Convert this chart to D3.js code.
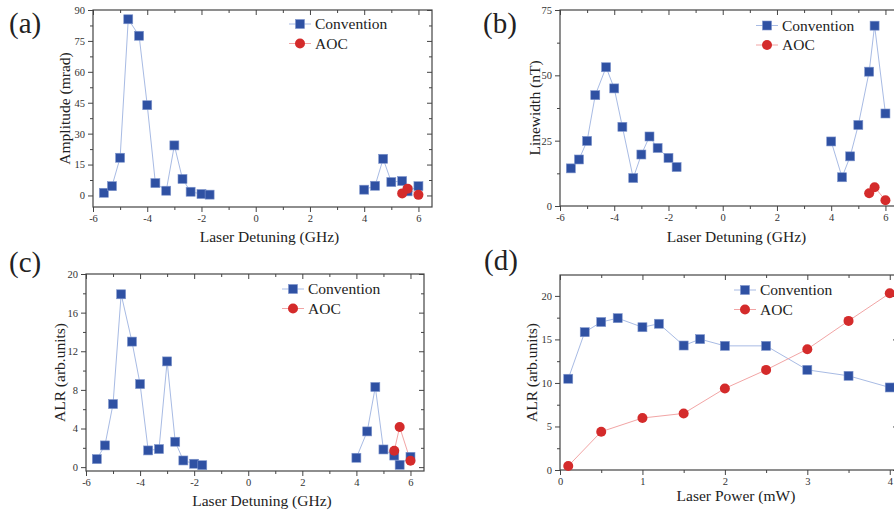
<!DOCTYPE html>
<html lang="en">
<head>
<meta charset="utf-8">
<title>Convention vs AOC</title>
<style>
  body { margin: 0; background: #fff; }
  svg { display: block; }
  .tick text { fill: #333; }
  .tick line { stroke: #444; }
  .domain { display: none; }
</style>
<script src="https://d3js.org/d3.v7.min.js"></script>
</head>
<body>
<script>
// ---- data ----
let detuning = [-5.6, -5.3, -5.0, -4.7, -4.3, -4.0, -3.7, -3.3, -3.0, -2.7, -2.4, -2.0, -1.7, 4.0, 4.4, 4.7, 5.0, 5.4, 5.6, 6.0]
let aocDetuning = [5.4, 5.6, 6.0]

let ampConv = [1.3, 4.5, 18.3, 85.5, 77.5, 43.8, 6.0, 2.3, 24.3, 8.0, 1.8, 0.7, 0.4, 2.8, 4.7, 17.8, 6.5, 7.0, 2.0, 4.5]
let ampAoc = [1.0, 3.3, 0.3]

let lwConv = [14.4, 17.8, 24.9, 42.4, 53.1, 45.0, 30.3, 10.7, 19.7, 26.6, 22.2, 18.4, 14.9, 24.7, 11.0, 19.0, 31.0, 51.4, 69.0, 35.4]
let lwAoc = [4.9, 7.2, 2.2]

let alrConv = [0.83, 2.25, 6.53, 17.9, 13.0, 8.6, 1.73, 1.87, 10.95, 2.63, 0.69, 0.35, 0.2, 0.97, 3.7, 8.3, 1.83, 1.2, 0.24, 1.07]
let alrAoc = [1.7, 4.15, 0.66]

let power = [0.1, 0.3, 0.5, 0.7, 1.0, 1.2, 1.5, 1.7, 2.0, 2.5, 3.0, 3.5, 4.0]
let powConv = [10.48, 15.83, 17.0, 17.44, 16.4, 16.8, 14.3, 15.03, 14.26, 14.26, 11.5, 10.82, 9.48]
let aocPower = [0.1, 0.5, 1.0, 1.5, 2.0, 2.5, 3.0, 3.5, 4.0]
let powAoc = [0.46, 4.4, 5.97, 6.5, 9.37, 11.5, 13.88, 17.13, 20.3]

let detTicks = [-6, -4, -2, 0, 2, 4, 6]
let detMinor = [-5, -3, -1, 1, 3, 5]

const blue = "#2f51a3", blueLine = "#a8bbe4"
const red = "#d42b2b", redLine = "#f2a5a5"
const axisCol = "#444"
const serif = '"Liberation Serif", "Times New Roman", serif'

let svg = d3.select("body").append("svg")
    .attr("width", 894).attr("height", 510)

let panels = [
  { tag: "(a)", tagX: 9, tagY: 33, x0: 93, x1: 432, y0: 10, y1: 207,
    xDom: [-6, 6.5], yDom: [-5.6, 90], yTicks: [0, 15, 30, 45, 60, 75, 90], yMinor: [7.5, 22.5, 37.5, 52.5, 67.5, 82.5],
    xTicks: detTicks, xMinor: detMinor, yLabel: "Amplitude (mrad)", yLabelX: 65, xLabel: "Laser Detuning (GHz)", xLabelY: 242,
    legX: 300, legY: 24,
    conv: { x: detuning, y: ampConv }, aoc: { x: aocDetuning, y: ampAoc } },
  { tag: "(b)", tagX: 483, tagY: 33, x0: 560, x1: 899, y0: 10, y1: 206,
    xDom: [-6, 6.5], yDom: [0, 75], yTicks: [0, 25, 50, 75], yMinor: [12.5, 37.5, 62.5],
    xTicks: detTicks, xMinor: detMinor, yLabel: "Linewidth (nT)", yLabelX: 535, xLabel: "Laser Detuning (GHz)", xLabelY: 242,
    legX: 767, legY: 25.5,
    conv: { x: detuning, y: lwConv }, aoc: { x: aocDetuning, y: lwAoc } },
  { tag: "(c)", tagX: 9, tagY: 272, x0: 86, x1: 424, y0: 274, y1: 471,
    xDom: [-6, 6.5], yDom: [-0.4, 20], yTicks: [0, 4, 8, 12, 16, 20], yMinor: [2, 6, 10, 14, 18],
    xTicks: detTicks, xMinor: detMinor, yLabel: "ALR (arb.units)", yLabelX: 60, xLabel: "Laser Detuning (GHz)", xLabelY: 506,
    legX: 293, legY: 289,
    conv: { x: detuning, y: alrConv }, aoc: { x: aocDetuning, y: alrAoc } },
  { tag: "(d)", tagX: 484, tagY: 270, x0: 560, x1: 898, y0: 275, y1: 470,
    xDom: [0, 4.1], yDom: [0, 22.4], yTicks: [0, 5, 10, 15, 20], yMinor: [2.5, 7.5, 12.5, 17.5],
    xTicks: [0, 1, 2, 3, 4], xMinor: [0.5, 1.5, 2.5, 3.5], yLabel: "ALR (arb.units)", yLabelX: 532, xLabel: "Laser Power (mW)", xLabelY: 501,
    legX: 745, legY: 290,
    conv: { x: power, y: powConv }, aoc: { x: aocPower, y: powAoc } }
]

let drawPanel = (p) => {
  let xScale = d3.scaleLinear().domain(p.xDom).range([p.x0, p.x1])
  let yScale = d3.scaleLinear().domain(p.yDom).range([p.y1, p.y0])
  let g = svg.append("g")

  let addAxis = (axis, tx, ty) => {
    g.append("g").attr("transform", `translate(${tx},${ty})`)
      .call(axis)
      .attr("font-family", serif)
      .attr("font-size", 10.5)
  }

  // axes: bottom/left outward, top/right inward
  addAxis(d3.axisBottom(xScale).tickValues(p.xTicks).tickSize(5).tickSizeOuter(0).tickPadding(3).tickFormat(d => String(d)), 0, p.y1)
  addAxis(d3.axisBottom(xScale).tickValues(p.xMinor).tickSize(3).tickSizeOuter(0).tickFormat(""), 0, p.y1)
  addAxis(d3.axisLeft(yScale).tickValues(p.yTicks).tickSize(5).tickSizeOuter(0).tickPadding(3).tickFormat(d => String(d)), p.x0, 0)
  addAxis(d3.axisLeft(yScale).tickValues(p.yMinor).tickSize(3).tickSizeOuter(0).tickFormat(""), p.x0, 0)
  addAxis(d3.axisTop(xScale).tickValues(p.xTicks).tickSize(-5).tickSizeOuter(0).tickFormat(""), 0, p.y0)
  addAxis(d3.axisTop(xScale).tickValues(p.xMinor).tickSize(-3).tickSizeOuter(0).tickFormat(""), 0, p.y0)
  addAxis(d3.axisRight(yScale).tickValues(p.yTicks).tickSize(-5).tickSizeOuter(0).tickFormat(""), p.x1, 0)
  addAxis(d3.axisRight(yScale).tickValues(p.yMinor).tickSize(-3).tickSizeOuter(0).tickFormat(""), p.x1, 0)

  g.append("rect")
    .attr("x", p.x0).attr("y", p.y0)
    .attr("width", p.x1 - p.x0).attr("height", p.y1 - p.y0)
    .attr("fill", "none").attr("stroke", axisCol).attr("stroke-width", 1.2)

  // labels
  g.append("text").text(p.tag)
    .attr("x", p.tagX).attr("y", p.tagY)
    .style("font-family", serif).attr("font-size", 29).attr("fill", "#222")
  g.append("text").text(p.xLabel)
    .attr("x", (p.x0 + p.x1) / 2 + 7).attr("y", p.xLabelY)
    .attr("text-anchor", "middle").style("font-family", serif).attr("font-size", 15.5).attr("fill", "#222")
  g.append("text").text(p.yLabel)
    .attr("transform", `translate(${p.yLabelX + 5},${(p.y0 + p.y1) / 2}) rotate(-90)`)
    .attr("text-anchor", "middle").style("font-family", serif).attr("font-size", 15.5).attr("fill", "#222")

  // the detuning sweep jumps across zero, so the line breaks there
  let segLine = (xs, ys) => {
    let path = d3.path()
    ys.forEach((d, i) => {
      let px = xScale(xs[i]), py = yScale(d)
      if (i === 0 || xs[i] - xs[i - 1] > 1.5) path.moveTo(px, py)
      else path.lineTo(px, py)
    })
    return path.toString()
  }

  // series lines
  g.append("path").attr("d", segLine(p.conv.x, p.conv.y))
    .attr("fill", "none").attr("stroke", blueLine).attr("stroke-width", 1)
  g.append("path").attr("d", segLine(p.aoc.x, p.aoc.y))
    .attr("fill", "none").attr("stroke", redLine).attr("stroke-width", 1)

  // markers
  g.selectAll(null).data(p.conv.y).enter().append("rect")
    .attr("x", (d, i) => xScale(p.conv.x[i]) - 4.5)
    .attr("y", d => yScale(d) - 4.5)
    .attr("width", 9).attr("height", 9)
    .attr("fill", blue).attr("stroke", "#7f95cc").attr("stroke-width", 0.6)
  g.selectAll(null).data(p.aoc.y).enter().append("circle")
    .attr("cx", (d, i) => xScale(p.aoc.x[i]))
    .attr("cy", d => yScale(d))
    .attr("r", 5)
    .attr("fill", red)

  // legend
  let leg = g.append("g").attr("transform", `translate(${p.legX},${p.legY})`)
  leg.append("line").attr("x1", -11).attr("x2", 11).attr("y1", 0).attr("y2", 0)
    .attr("stroke", blueLine).attr("stroke-width", 1)
  leg.append("rect").attr("x", -4.5).attr("y", -4.5).attr("width", 9).attr("height", 9)
    .attr("fill", blue).attr("stroke", "#7f95cc").attr("stroke-width", 0.6)
  leg.append("text").text("Convention").attr("x", 15).attr("y", 5)
    .style("font-family", serif).attr("font-size", 15.5).attr("fill", "#222")
  leg.append("line").attr("x1", -11).attr("x2", 11).attr("y1", 19.5).attr("y2", 19.5)
    .attr("stroke", redLine).attr("stroke-width", 1)
  leg.append("circle").attr("cx", 0).attr("cy", 19.5).attr("r", 5).attr("fill", red)
  leg.append("text").text("AOC").attr("x", 15).attr("y", 24.5)
    .style("font-family", serif).attr("font-size", 15.5).attr("fill", "#222")
}

panels.forEach(drawPanel)
</script>
</body>
</html>
